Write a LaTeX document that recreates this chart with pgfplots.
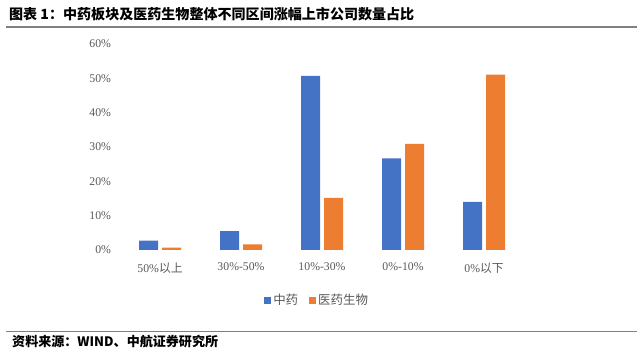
\documentclass[border=0pt]{standalone}
\usepackage{fontspec}
\setmainfont{Liberation Serif}
\newfontfamily\cjk{Noto Sans CJK SC}
\usepackage{pgfplots}
\pgfplotsset{compat=1.18}
\definecolor{cblue}{HTML}{4472C4}
\definecolor{corange}{HTML}{ED7D31}
\definecolor{tgray}{HTML}{595959}
\definecolor{lgray}{HTML}{D9D9D9}
\begin{document}
\begin{tikzpicture}
\path[use as bounding box] (0bp,0bp) rectangle (640bp,351bp);
\node[anchor=west,inner sep=0,font=\cjk\bfseries\fontsize{14.1}{15}\selectfont] at (9bp,337bp) {图表 1：中药板块及医药生物整体不同区间涨幅上市公司数量占比};
\draw[gray,line width=1.4bp] (6bp,324bp) -- (637bp,324bp);
\draw[gray,line width=1.2bp] (6bp,19.5bp) -- (637bp,19.5bp);
\node[anchor=west,inner sep=0,font=\cjk\bfseries\fontsize{13.1}{15}\selectfont] at (12bp,9bp) {资料来源：WIND、中航证券研究所};
\begin{axis}[
  at={(119.5bp,101bp)}, anchor=south west,
  scale only axis, width=405bp, height=206bp,
  ymin=0, ymax=60, xmin=-0.5, xmax=4.5,
  ybar=4bp, bar width=19bp,
  axis line style={draw=none}, tick style={draw=none},
  ytick={0,10,...,60},
  yticklabel={\pgfmathprintnumber{\tick}\%},
  xtick={0,1,2,3,4},
  xticklabels={50\%{\cjk 以上}, 30\%-50\%, 10\%-30\%, 0\%-10\%, 0\%{\cjk 以下}},
  tick label style={font=\fontsize{11.8}{13}\selectfont, text=tgray},
  /pgf/number format/assume math mode=true,
  xticklabel style={yshift=-5bp},
  yticklabel style={xshift=-5bp},
  legend columns=2,
  legend style={at={(axis description cs:0.488,-0.243)}, anchor=center, draw=none, font=\cjk\fontsize{12.5}{14}\selectfont, text=tgray, /tikz/every even column/.append style={column sep=9bp}},
  legend image code/.code={\fill[#1] (0bp,-3.5bp) rectangle (7bp,3.5bp);},
]
\draw[lgray, line width=0.8bp] (axis cs:-0.5,0) -- (axis cs:4.5,0);
\addplot[fill=cblue, draw=none] coordinates {(0,2.7) (1,5.5) (2,50.7) (3,26.7) (4,14.0)};
\addplot[fill=corange, draw=none] coordinates {(0,0.7) (1,1.65) (2,15.2) (3,30.9) (4,51.1)};
\legend{中药, 医药生物}
\end{axis}
\end{tikzpicture}
\end{document}
